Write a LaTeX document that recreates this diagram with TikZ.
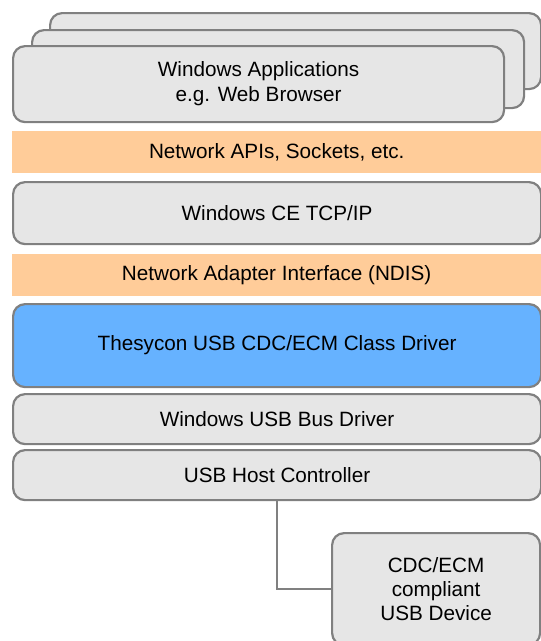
\documentclass[tikz,border=0pt]{standalone}
\usepackage{fontspec}
\setmainfont{Liberation Sans}
\definecolor{linegray}{HTML}{808080}
\definecolor{boxgray}{HTML}{E6E6E6}
\definecolor{bandorange}{HTML}{FFCC99}
\definecolor{driverblue}{HTML}{66B2FF}
\begin{document}
\begin{tikzpicture}[x=1pt,y=-1pt,
  layer/.style={draw=linegray, line width=2.2pt, fill=boxgray, rounded corners=12pt,
    anchor=north west, inner sep=0pt, align=center,
    font=\fontsize{20.7}{25}\selectfont},
  band/.style={fill=bandorange, anchor=north west, inner sep=0pt, align=center,
    font=\fontsize{20.7}{25}\selectfont},
  conn/.style={draw=linegray, line width=2.2pt}]
\useasboundingbox (0,0) rectangle (541,641);
\node[layer, minimum width=491pt, minimum height=76pt] (back) at (49,12) {};
\node[layer, minimum width=492pt, minimum height=78pt] (mid) at (31,29) {};
\node[layer, minimum width=491pt, minimum height=76pt] (front) at (12,45) {Windows Applications\\e.g. Web Browser};
\node[band, minimum width=529pt, minimum height=42pt] (apis) at (12,131) {Network APIs, Sockets, etc.};
\node[layer, minimum width=528pt, minimum height=62pt] (tcp) at (12,181) {Windows CE TCP/IP};
\node[band, minimum width=529pt, minimum height=42pt] (ndis) at (12,254) {Network Adapter Interface (NDIS)};
\node[layer, fill=driverblue, minimum width=528pt, minimum height=83pt] (drv) at (12,303) {Thesycon USB CDC/ECM Class Driver};
\node[layer, minimum width=528pt, minimum height=50pt] (bus) at (12,393) {Windows USB Bus Driver};
\node[layer, minimum width=528pt, minimum height=50pt] (host) at (12,449) {USB Host Controller};
\node[layer, font=\fontsize{20.7}{24}\selectfont, minimum width=208pt, minimum height=112pt] (dev) at (331,532) {CDC/ECM\\compliant\\USB Device};
\draw[conn] (host.south) |- (dev.west);
\end{tikzpicture}
\end{document}
